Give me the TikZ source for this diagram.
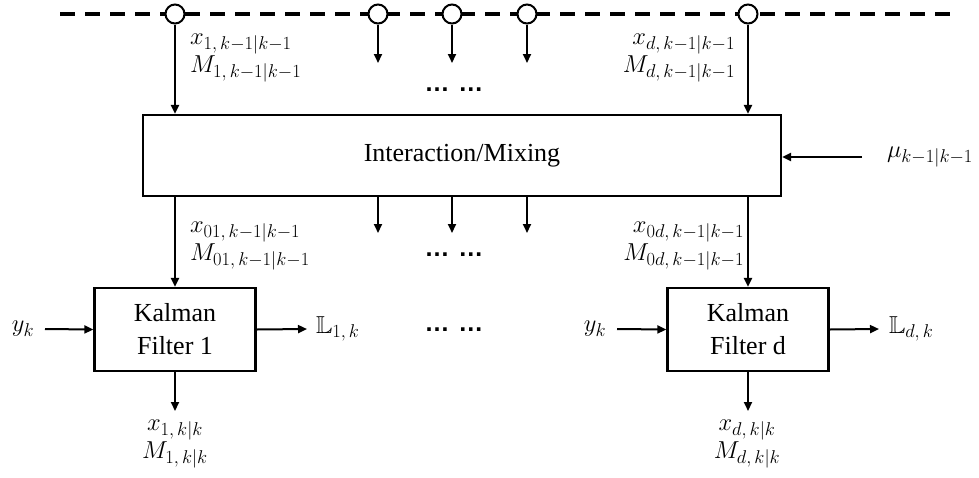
\RequirePackage{fix-cm}
\documentclass[tikz,border=0pt]{standalone}
\usepackage{amssymb}
\usepackage{fontspec}
\setmainfont{Liberation Serif}
\setsansfont{Liberation Sans}
\DeclareMathSizes{24.5}{24.5}{18.5}{14}
\usetikzlibrary{arrows.meta}
\begin{document}
\begin{tikzpicture}[x=1pt,y=-1pt,
  line width=2pt,
  arr/.style={-{Triangle[length=9pt,width=8pt]}},
  blk/.style={draw, line width=2.2pt, inner sep=0pt, font=\fontsize{26}{33}\selectfont, align=center},
  port/.style={draw, circle, fill=white, minimum size=19pt, inner sep=0pt, line width=2pt},
  lbl/.style={font=\fontsize{24.5}{28}\selectfont, inner sep=0pt, align=left},
  dotsty/.style={font=\sffamily\bfseries\fontsize{25}{28}\selectfont, inner sep=0pt},
  bus/.style={line width=3.5pt, dash pattern=on 15pt off 10pt}
]
\useasboundingbox (0,0) rectangle (979,477);

% bus
\coordinate (busL) at (60,14);
\coordinate (busR) at (952,14);
\draw[bus] (busL) -- (busR);

% ports
\node[port] (c1) at (175,14) {};
\node[port] (c2) at (378,14) {};
\node[port] (c3) at (452,14) {};
\node[port] (c4) at (527,14) {};
\node[port] (c5) at (748,14) {};

% blocks
\node[blk, minimum width=638pt, minimum height=81pt] (mix) at (462,155.5) {Interaction/Mixing};
\node[blk, minimum width=161pt, minimum height=83pt] (kf1) at (175,329.5) {Kalman\\Filter 1};
\node[blk, minimum width=161pt, minimum height=83pt] (kfd) at (748,329.5) {Kalman\\Filter d};

% arrows from ports
\draw[arr] (c1) -- (c1 |- mix.north);
\coordinate (e2) at (378,63);
\coordinate (e3) at (452,63);
\coordinate (e4) at (527,63);
\draw[arr] (c2) -- (e2);
\draw[arr] (c3) -- (e3);
\draw[arr] (c4) -- (e4);
\draw[arr] (c5) -- (c5 |- mix.north);

% arrows below mixing
\coordinate (f2) at (378,233);
\coordinate (f3) at (452,233);
\coordinate (f4) at (527,233);
\draw[arr] (mix.south -| kf1) -- (kf1.north);
\draw[arr] (mix.south -| f2) -- (f2);
\draw[arr] (mix.south -| f3) -- (f3);
\draw[arr] (mix.south -| f4) -- (f4);
\draw[arr] (mix.south -| kfd) -- (kfd.north);

% mu input
\coordinate (ms) at (862,157);
\draw[arr] (ms) -- (ms -| mix.east);
\node[lbl, anchor=west] (mu) at (886,157) {$\mu_{k-1|k-1}$};

% inputs y_k
\node[lbl] (y1) at (23,329) {$y_k$};
\coordinate (y1s) at (45,329);
\draw[arr] (y1s) -- (kf1.west);
\node[lbl] (yd) at (595,329) {$y_k$};
\coordinate (yds) at (617,329);
\draw[arr] (yds) -- (kfd.west);

% outputs L
\coordinate (o1) at (307,329);
\draw[arr] (kf1.east) -- (o1);
\node[lbl, anchor=west] (L1) at (315,329) {$\mathbb{L}_{1,\,k}$};
\coordinate (od) at (879,329);
\draw[arr] (kfd.east) -- (od);
\node[lbl, anchor=west] (Ld) at (888,329) {$\mathbb{L}_{d,\,k}$};

% bottom outputs
\coordinate (b1) at (175,411);
\draw[arr] (kf1.south) -- (b1);
\node[lbl, align=center] (x1) at (175,444) {$x_{1,\,k|k}$\\$M_{1,\,k|k}$};
\coordinate (bd) at (748,411);
\draw[arr] (kfd.south) -- (bd);
\node[lbl, align=center] (xd) at (747,444) {$x_{d,\,k|k}$\\$M_{d,\,k|k}$};

% labels
\node[lbl, anchor=west] (t1) at (189,58) {$x_{1,\,k-1|k-1}$\\$M_{1,\,k-1|k-1}$};
\node[lbl, anchor=east, align=right] (td) at (736,58) {$x_{d,\,k-1|k-1}$\\$M_{d,\,k-1|k-1}$};
\node[lbl, anchor=west] (m1) at (189,246) {$x_{01,\,k-1|k-1}$\\$M_{01,\,k-1|k-1}$};
\node[lbl, anchor=east, align=right] (md) at (745,246) {$x_{0d,\,k-1|k-1}$\\$M_{0d,\,k-1|k-1}$};

% dots
\node[dotsty] (d1) at (454,90) {…\hspace{0.35em}…};
\node[dotsty] (d2) at (454,255) {…\hspace{0.35em}…};
\node[dotsty] (d3) at (454,330) {…\hspace{0.35em}…};
\end{tikzpicture}
\end{document}
